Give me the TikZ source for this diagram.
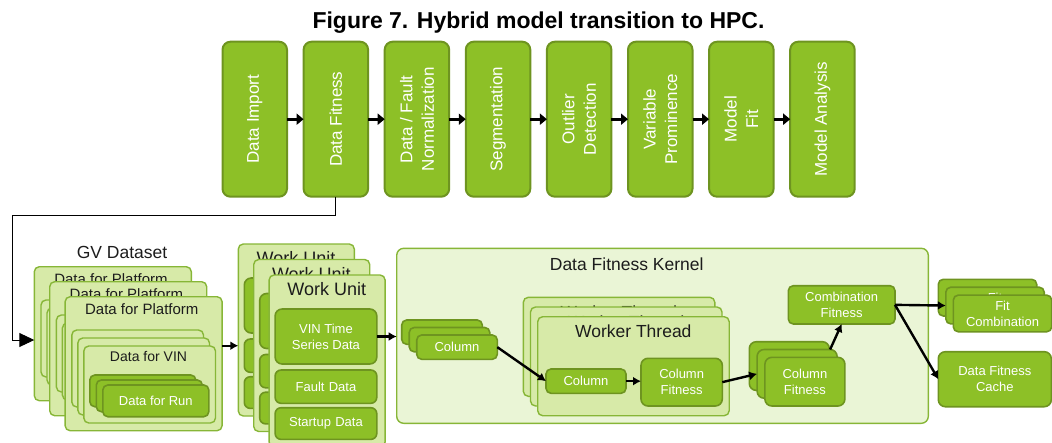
\documentclass[tikz,border=0pt]{standalone}
\usepackage{fontspec}
\setmainfont{Liberation Sans}
\usetikzlibrary{arrows.meta,calc}

\definecolor{dkfill}{RGB}{141,192,39}
\definecolor{dkline}{RGB}{110,148,32}
\definecolor{ltfill}{RGB}{215,234,168}
\definecolor{ltline}{RGB}{135,182,55}
\definecolor{kfill}{RGB}{234,245,214}
\definecolor{ink}{RGB}{28,28,28}

\newcommand\fsz[2]{\fontsize{#1}{#2}\selectfont}

\begin{document}
\begin{tikzpicture}[x=1pt,y=-1pt,
  every node/.style={inner sep=0pt,outer sep=0pt},
  dk/.style={draw=dkline,fill=dkfill,line width=1.6pt,rounded corners=5pt,
    text=white,font=\fsz{13}{16},align=center,anchor=north west},
  lt/.style={draw=ltline,fill=ltfill,line width=1.4pt,rounded corners=5pt,anchor=north west},
  kbox/.style={draw=ltline,fill=kfill,line width=1.4pt,rounded corners=7pt,anchor=north west},
  stage/.style={draw=dkline,fill=dkfill,line width=2pt,rounded corners=8pt,
    text=white,font=\fsz{17}{21.5},align=center,rotate=90,
    minimum width=155pt,minimum height=64.5pt},
  ttl/.style={text=ink,anchor=center},
  arr/.style={line width=2.4pt,-{Latex[length=8pt,width=9pt]}},
  toparr/.style={line width=3.2pt,-{Triangle[length=7pt,width=11pt]}},
  fb/.style={line width=0.9pt,-{Triangle[length=15pt,width=14pt]}}]

\useasboundingbox (0,0) rectangle (1052,442);
\clip (0,0) rectangle (1052,442);

% caption
\node[anchor=base,font=\bfseries\fsz{23}{26},text=black] (caption) at (538.5,28.3)
  {Figure 7. Hybrid model transition to HPC.};

% pipeline stages
\foreach \i/\t in {1/Data Import,2/Data Fitness,3/{Data / Fault\\Normalization},
    4/Segmentation,5/{Outlier\\Detection},6/{Variable\\Prominence},7/{Model\\Fit},
    8/Model Analysis}
  \node[stage] (s\i) at (254.75+81.1*\i-81.1,119.2) {\t};
\foreach \i [evaluate=\i as \n using int(\i+1)] in {1,...,7}
  \draw[toparr] (s\i.south) -- (s\n.north);

% GV dataset: three platform cards, each with a stack of VIN cards
\node[ttl,font=\fsz{17.5}{20}] (gvt) at (122,252) {GV Dataset};
\foreach \i in {0,1,2} {
  \node[lt,minimum width=157pt,minimum height=134pt] (plat\i) at (34.3+15.4*\i,266.7+15*\i) {};
  \node[ttl,font=\fsz{15}{18}] (platt\i) at ($(plat\i.north west)+(76.7,12.3)$) {Data for Platform};
  \foreach \j in {0,1,2}
    \node[lt,minimum width=131.7pt,minimum height=77pt] (vin\i\j)
      at ($(plat\i.north west)+(6.7+6*\j,33.3+8*\j)$) {};
}
\node[ttl,font=\fsz{14}{16}] (vint) at ($(vin22.north west)+(64.7,10.7)$) {Data for VIN};
\foreach \k in {0,1}
  \node[dk,minimum width=106pt,minimum height=31.7pt] (run\k)
    at ($(vin22.north west)+(6+6.5*\k,29+5*\k)$) {};
\node[dk,minimum width=106pt,minimum height=31.7pt] (run2)
  at ($(vin22.north west)+(19,39)$) {Data for Run};

% work units
\foreach \i in {0,1,2} {
  \node[lt,minimum width=116pt,minimum height=172pt] (wu\i) at (238.3+15.4*\i,244+15.5*\i) {};
  \node[ttl,font=\fsz{18}{20}] (wut\i) at ($(wu\i.north west)+(57.7,14.3)$) {Work Unit};
  \node[dk,rounded corners=7pt,minimum width=101.7pt,minimum height=55pt] (vts\i)
    at ($(wu\i.north west)+(6,34)$) {};
  \node[dk,rounded corners=6pt,minimum width=101.7pt,minimum height=33.3pt] (flt\i)
    at ($(wu\i.north west)+(6,95)$) {};
  \node[dk,rounded corners=6pt,minimum width=101.7pt,minimum height=31.7pt] (sup\i)
    at ($(wu\i.north west)+(6,132.7)$) {};
}
\node[text=white,font=\fsz{13}{16},align=center] (vtst) at (vts2.center) {VIN Time\\Series Data};
\node[text=white,font=\fsz{13}{16}] (fltt) at (flt2.center) {Fault\,\,Data};
\node[text=white,font=\fsz{13}{16}] (supt) at (sup2.center) {Startup\,\,Data};

% data fitness kernel
\node[kbox,minimum width=531.6pt,minimum height=175pt] (kernel) at (396.7,248.3) {};
\node[ttl,font=\fsz{17.5}{20}] (kernelt) at (626.7,264) {Data Fitness Kernel};

\foreach \i in {0,1}
  \node[dk,minimum width=80.6pt,minimum height=24.3pt] (col\i) at (401.7+7.5*\i,320+7.5*\i) {};
\node[dk,minimum width=80.6pt,minimum height=24.3pt] (col2) at (416.7,335) {Column};

\foreach \i in {0,1,2} {
  \node[lt,minimum width=191.5pt,minimum height=99pt] (wt\i) at (523.3+7.2*\i,297.3+9.7*\i) {};
  \node[ttl,font=\fsz{17.5}{20}] (wtt\i) at ($(wt\i.north west)+(95.6,15)$) {Worker Thread};
}
\node[dk,minimum width=80pt,minimum height=24.3pt] (wcol) at ($(wt2.north west)+(8.3,52.3)$) {Column};
\node[dk,rounded corners=7pt,minimum width=81.3pt,minimum height=47.7pt] (wcf)
  at ($(wt2.north west)+(103.3,41.6)$) {Column\\Fitness};

\foreach \i in {0,1}
  \node[dk,rounded corners=7pt,minimum width=80pt,minimum height=48.7pt] (cf\i)
    at (749.3+7.8*\i,341.7+7.8*\i) {};
\node[dk,rounded corners=7pt,minimum width=80pt,minimum height=48.7pt] (cf2)
  at (764.9,357.3) {Column\\Fitness};

\node[dk,minimum width=106.7pt,minimum height=38.3pt] (comb) at (788.3,285.7) {Combination\\Fitness};

% outputs
\node[dk,minimum width=98.4pt,minimum height=36.7pt] (fc0) at (938.3,279.3) {};
\node[dk,minimum width=98.4pt,minimum height=36.7pt] (fc1) at (945.8,287.2) {Fit\\Combination};
\node[dk,minimum width=98.4pt,minimum height=36.7pt] (fc2) at (953.3,295.1) {Fit\\Combination};
\node[dk,rounded corners=7pt,minimum width=113pt,minimum height=55pt] (cache) at (938.3,351.7) {Data Fitness\\Cache};

% connectors
\coordinate (fbA) at (12.7,215.7);
\coordinate (fbB) at (12.7,340);
\draw[fb] (s2.west) |- (fbA) -- (fbB) -- (fbB -| plat0.west);

\coordinate (platOut) at ($(plat2.east)+(0,-18)$);
\draw[arr] (platOut) -- (platOut -| wu0.west);
\draw[arr] (vts2.east) -- (vts2.east -| kernel.west);
\draw[arr] (col2.east) -- (wcol.west);
\draw[arr] (wcol.east) -- (wcol.east -| wcf.west);
\draw[arr] (wcf.east) -- (cf1.west);
\draw[arr] ($(cf1.north east)+(-7,0)$) -- (comb.south);
\draw[arr] (comb.east) -- (fc1.west);
\draw[arr] (comb.east) -- (cache.west);
\end{tikzpicture}
\end{document}
